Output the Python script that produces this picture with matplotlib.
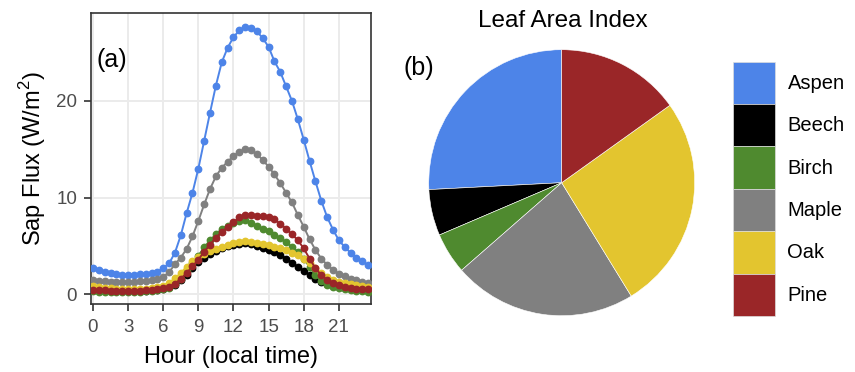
import matplotlib
matplotlib.use("Agg")
import matplotlib.pyplot as plt
from matplotlib.patches import Patch
import numpy as np

plt.rcParams['font.family'] = ['Liberation Sans', 'DejaVu Sans']
plt.rcParams['mathtext.fontset'] = 'custom'
plt.rcParams['mathtext.rm'] = 'Liberation Sans'

# half-hourly diurnal sap flux, hours 0 .. 23.5
hours = np.arange(0, 24, 0.5)

aspen = [2.75, 2.5, 2.35, 2.2, 2.15, 2.05, 2.0, 2.05, 2.1, 2.15, 2.25, 2.35,
         2.7, 3.2, 4.3, 6.1, 8.4, 10.5, 13.0, 15.9, 18.8, 21.6, 24.0, 25.5,
         26.6, 27.3, 27.7, 27.5, 27.2, 26.5, 25.6, 24.1, 23.0, 21.5, 20.0, 18.1,
         16.0, 13.8, 11.7, 9.7, 8.0, 6.7, 5.6, 4.9, 4.3, 3.8, 3.4, 3.0]
beech = [0.4, 0.37, 0.35, 0.33, 0.32, 0.31, 0.3, 0.31, 0.33, 0.36, 0.4, 0.46,
         0.55, 0.72, 1.0, 1.45, 2.05, 2.7, 3.3, 3.8, 4.2, 4.5, 4.8, 5.0,
         5.15, 5.25, 5.3, 5.2, 5.0, 4.8, 4.6, 4.4, 4.1, 3.7, 3.27, 2.86,
         2.44, 2.0, 1.6, 1.25, 1.03, 0.86, 0.72, 0.62, 0.55, 0.48, 0.43, 0.4]
birch = [0.3, 0.28, 0.27, 0.26, 0.25, 0.24, 0.24, 0.25, 0.27, 0.3, 0.35, 0.42,
         0.52, 0.7, 1.07, 1.6, 2.4, 3.2, 4.0, 4.85, 5.6, 6.2, 6.75, 7.1,
         7.35, 7.55, 7.65, 7.4, 7.1, 6.75, 6.5, 6.1, 5.8, 5.4, 4.9, 4.4,
         3.7, 2.86, 2.0, 1.4, 1.0, 0.8, 0.62, 0.52, 0.42, 0.35, 0.3, 0.27]
maple = [1.45, 1.4, 1.35, 1.3, 1.3, 1.28, 1.28, 1.3, 1.35, 1.42, 1.5, 1.6,
         1.8, 2.3, 3.1, 3.8, 4.7, 6.0, 7.6, 9.3, 10.9, 12.2, 13.1, 13.7,
         14.3, 14.75, 15.0, 14.9, 14.5, 13.9, 13.2, 12.4, 11.5, 10.5, 9.5, 8.2,
         7.0, 5.7, 4.6, 3.7, 3.05, 2.55, 2.15, 1.85, 1.6, 1.45, 1.3, 1.2]
oak = [0.85, 0.75, 0.68, 0.62, 0.58, 0.55, 0.53, 0.53, 0.55, 0.58, 0.62, 0.72,
       0.88, 1.2, 1.65, 2.2, 2.85, 3.4, 3.85, 4.2, 4.5, 4.7, 4.9, 5.1,
       5.27, 5.42, 5.5, 5.45, 5.3, 5.2, 5.1, 4.9, 4.75, 4.6, 4.3, 4.05,
       3.7, 3.27, 2.7, 2.2, 1.8, 1.5, 1.3, 1.15, 1.02, 0.93, 0.85, 0.8]
pine = [0.45, 0.42, 0.4, 0.38, 0.36, 0.35, 0.34, 0.35, 0.37, 0.4, 0.45, 0.52,
        0.62, 0.8, 1.1, 1.6, 2.2, 2.9, 3.6, 4.4, 5.15, 5.85, 6.45, 6.95,
        7.45, 7.95, 8.2, 8.2, 8.1, 8.1, 8.0, 7.75, 7.3, 6.8, 6.2, 5.6,
        4.75, 3.7, 2.7, 2.0, 1.5, 1.15, 0.92, 0.78, 0.68, 0.6, 0.55, 0.5]

species = ['Aspen', 'Beech', 'Birch', 'Maple', 'Oak', 'Pine']
flux = [aspen, beech, birch, maple, oak, pine]
colors = ['#4D84E8', '#000000', '#4F8A2F', '#808080', '#E3C52F', '#9A2628']

# leaf area index share per species (percent)
lai = [25.8, 5.6, 5.0, 22.3, 26.1, 15.1]

x_ticks = [0, 3, 6, 9, 12, 15, 18, 21]
y_ticks = [0, 10, 20]

W, H = 855, 372
fig = plt.figure(figsize=(W / 100, H / 100), dpi=100)

# ---- (a) sap flux lines ----
ax = fig.add_axes([91 / W, 1 - 304 / H, 280 / W, 291 / H])
ax.set_facecolor('white')
for vals, c in zip(flux, colors):
    ax.plot(hours, vals, color=c, lw=1.4, marker='o', ms=4.6, zorder=3)

ax.set_xlim(-0.17, 23.75)
ax.set_ylim(-1.0, 29.1)
ax.set_xticks(x_ticks)
ax.set_yticks(y_ticks)
ax.grid(True, color='#EBEBEB', lw=1.4, zorder=0)
ax.set_axisbelow(True)
for s in ax.spines.values():
    s.set_color('#333333')
    s.set_linewidth(1.2)
ax.tick_params(colors='#333333', labelcolor='#4D4D4D', labelsize=13.5,
               length=5, width=1.2)
ax.tick_params(axis='x', pad=5.5)
ax.tick_params(axis='y', pad=5)
ax.set_xlabel('Hour (local time)', fontsize=17, labelpad=7.5)
ax.set_ylabel('Sap Flux (W/m$^2$)', fontsize=17, labelpad=6)
ax.text(0.02, 0.84, '(a)', transform=ax.transAxes, fontsize=18,
        ha='left', va='center')

# ---- (b) leaf area index pie ----
r = 133
cx, cy = 561.7, 182.7
pax = fig.add_axes([(cx - r) / W, (H - cy - r) / H, 2 * r / W, 2 * r / H])
pax.pie(lai, colors=colors, startangle=90, counterclock=True, radius=1,
        wedgeprops=dict(edgecolor='white', linewidth=0.4))
pax.set_xlim(-1, 1)
pax.set_ylim(-1, 1)
pax.set_aspect('equal')
pax.axis('off')

fig.text(563 / W, 1 - 21 / H, 'Leaf Area Index', fontsize=17.5,
         ha='center', va='center')
fig.text(419 / W, 1 - 68 / H, '(b)', fontsize=18, ha='center', va='center')

handles = [Patch(facecolor=c, edgecolor='#DDDDDD', linewidth=0.5) for c in colors]
fig.legend(handles, species, loc='upper left',
           bbox_to_anchor=(733 / W, 1 - 61.7 / H), frameon=False,
           fontsize=14.5, handlelength=2.085, handleheight=2.862,
           labelspacing=0, handletextpad=0.62, borderpad=0, borderaxespad=0)

fig.savefig('out.png', dpi=100)
